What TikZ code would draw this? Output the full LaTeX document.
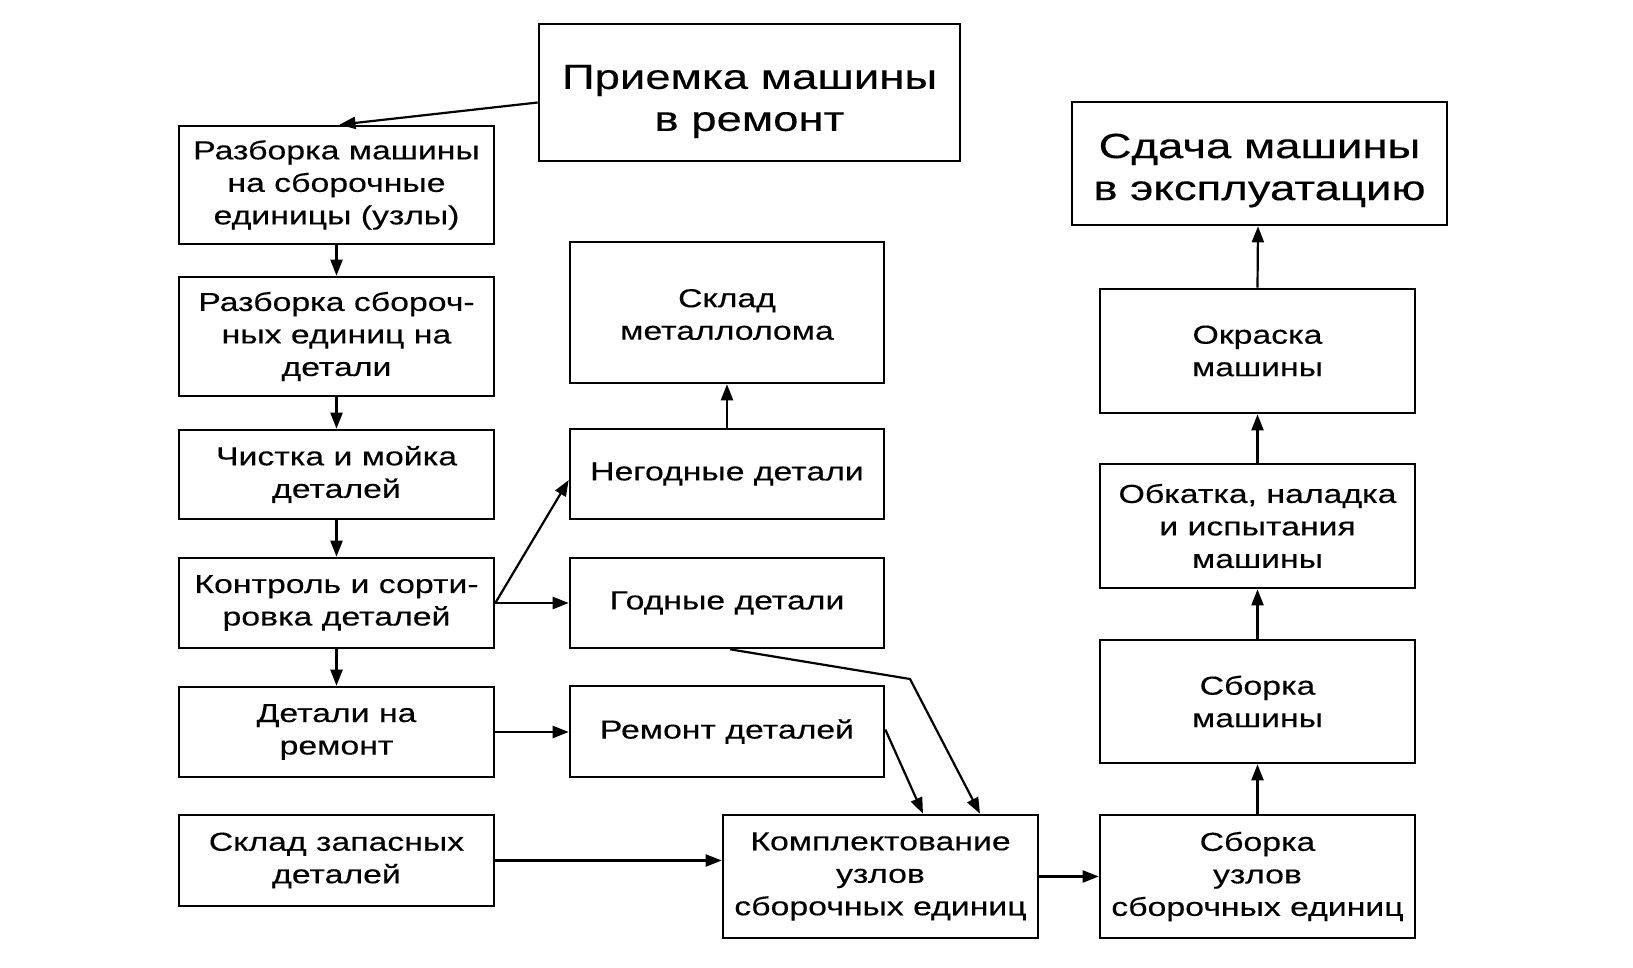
\documentclass[tikz,border=0pt]{standalone}
\usepackage{fontspec}
\setmainfont{Liberation Sans}[FakeStretch=1.3,FakeBold=0.3]
\usetikzlibrary{arrows.meta,calc}
\tikzset{
  box/.style={draw=black, line width=2.6pt, fill=white, inner sep=0pt, align=center,
    font=\fontsize{26}{32.5}\selectfont},
  bigbox/.style={box, font=\fontsize{35}{42}\selectfont},
  conn/.style={line width=2.2pt, -{Triangle[length=16pt,width=12pt]}},
  lbl/.style={inner sep=0pt, align=center, font=\fontsize{35}{42}\selectfont}
}
\begin{document}
\begin{tikzpicture}[x=1pt,y=-1pt]
\fill[white] (0,0) rectangle (1633,968);
\useasboundingbox (0,0) rectangle (1633,968);
% top boxes
\node[bigbox, minimum width=421pt, minimum height=137pt] (P) at (749.5,92.5) {};
\node[lbl] (Pt) at ([yshift=-9pt]P.center) {Приемка машины\\в ремонт};
\node[bigbox, minimum width=375pt, minimum height=123pt] (S) at (1259.5,163.5) {};
\node[lbl] (St) at ([yshift=-7pt]S.center) {Сдача машины\\в эксплуатацию};
% left column
\node[box, minimum width=315pt, minimum height=118pt] (A1) at (336.5,185) {Разборка машины\\на сборочные\\единицы (узлы)};
\node[box, minimum width=315pt, minimum height=119pt] (A2) at (336.5,336.5) {Разборка сбороч-\\ных единиц на\\детали};
\node[box, minimum width=315pt, minimum height=89pt] (A3) at (336.5,474.5) {Чистка и мойка\\деталей};
\node[box, minimum width=315pt, minimum height=90pt] (A4) at (336.5,603) {Контроль и сорти-\\ровка деталей};
\node[box, minimum width=315pt, minimum height=90pt] (A5) at (336.5,732) {Детали на\\ремонт};
\node[box, minimum width=315pt, minimum height=91pt] (A6) at (336.5,860.5) {Склад запасных\\деталей};
% middle column
\node[box, minimum width=314pt, minimum height=141pt] (M1) at (727,312.5) {};
\node[inner sep=0pt, align=center, font=\fontsize{26}{32.5}\selectfont] (M1t) at ([yshift=-2pt]M1.center) {Склад\\металлолома};
\node[box, minimum width=314pt, minimum height=90pt] (M2) at (727,474) {Негодные детали};
\node[box, minimum width=314pt, minimum height=90pt] (M3) at (727,603) {Годные детали};
\node[box, minimum width=314pt, minimum height=91pt] (M4) at (727,731.5) {Ремонт деталей};
\node[box, minimum width=315pt, minimum height=123pt] (K) at (880.5,876.5) {Комплектование\\узлов\\сборочных единиц};
% right column
\node[box, minimum width=315pt, minimum height=124pt] (R1) at (1257.5,351) {Окраска\\машины};
\node[box, minimum width=315pt, minimum height=124pt] (R2) at (1257.5,526) {Обкатка, наладка\\и испытания\\машины};
\node[box, minimum width=315pt, minimum height=123pt] (R3) at (1257.5,701.5) {Сборка\\машины};
\node[box, minimum width=315pt, minimum height=123pt] (R4) at (1257.5,876.5) {Сборка\\узлов\\сборочных единиц};
% connectors
\draw[conn] ([yshift=-10pt]P.west) -- ([xshift=3pt]A1.north);
\draw[conn] (A1.south) -- (A2.north);
\draw[conn] (A2.south) -- (A3.north);
\draw[conn] (A3.south) -- (A4.north);
\draw[conn] (A4.south) -- (A5.north);
\draw[conn] (A4.east) -- ([yshift=-6pt]M2.west);
\draw[conn] (A4.east) -- (M3.west);
\draw[conn] (M2.north) -- (M1.south);
\draw[conn] (A5.east) -- (A5.east -| M4.west);
\draw[conn] (A6.east) -- (A6.east -| K.west);
\coordinate (bend) at (910,679);
\draw[conn] ([xshift=3pt]M3.south) -- (bend) -- ([xshift=99.5pt]K.north);
\draw[conn] ([yshift=2pt]M4.east) -- ([xshift=42.5pt]K.north);
\draw[conn] (K.east) -- (R4.west);
\draw[conn] (R4.north) -- (R3.south);
\draw[conn] (R3.north) -- (R2.south);
\draw[conn] (R2.north) -- (R1.south);
\draw[conn] (R1.north) -- ([xshift=-1.5pt]S.south);
\end{tikzpicture}
\end{document}
